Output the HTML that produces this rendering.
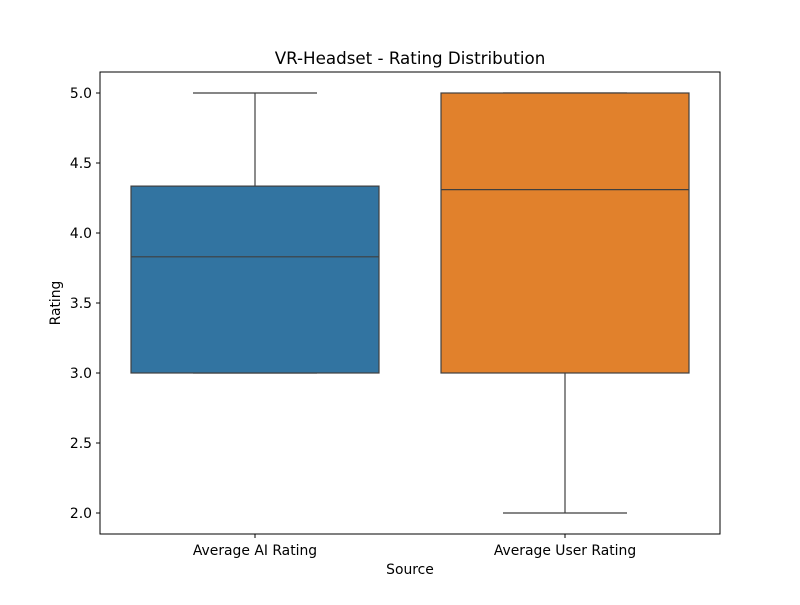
<!DOCTYPE html>
<html><head><meta charset="utf-8"><style>
body{margin:0;background:#fff;}
svg text{font-family:"DejaVu Sans","Liberation Sans",sans-serif;}
</style></head><body>
<svg width="800" height="600" xmlns="http://www.w3.org/2000/svg">
<rect width="800" height="600" fill="#fff"/>
<text x="410" y="64" text-anchor="middle" font-size="16.7">VR-Headset - Rating Distribution</text>
<g id="plot"></g>
<rect x="100" y="72" width="620" height="462" fill="none" stroke="#000" stroke-width="1"/>
<text x="410" y="574" text-anchor="middle" font-size="13.9">Source</text>
<text x="60" y="303" text-anchor="middle" font-size="13.9" transform="rotate(-90 60 303)">Rating</text>
</svg>
<script>
const categories=["Average AI Rating","Average User Rating"];
const q1=[3.0,3.0];
const medians=[3.83,4.31];
const q3=[4.335,5.0];
const whiskLow=[3.0,2.0];
const whiskHigh=[5.0,5.0];
const colors=["#3274a1","#e1812c"];
const yTicks=[2.0,2.5,3.0,3.5,4.0,4.5,5.0];
const ns="http://www.w3.org/2000/svg";
const g=document.getElementById('plot');
const y=v=>513-(v-2)*140;
const x=i=>100+310*(i+0.5);
function el(t,a){const e=document.createElementNS(ns,t);for(const k in a)e.setAttribute(k,a[k]);g.appendChild(e);return e;}
yTicks.forEach(t=>{
 const l=el('line',{x1:96,x2:100,y1:y(t),y2:y(t),stroke:'#000'});
 
 
 const tx=el('text',{x:92,y:y(t)+5,'text-anchor':'end','font-size':13.9});
 tx.textContent=t.toFixed(1);
 
 
});
categories.forEach((c,i)=>{
 const cx=x(i),bw=248,cw=124,s='#3f3f3f';
 const l=el('line',{x1:cx,x2:cx,y1:534,y2:538,stroke:'#000'});
 
 
 const tx=el('text',{x:cx,y:555,'text-anchor':'middle','font-size':13.9});
 tx.textContent=c;
 
 
 const w1=el('line',{x1:cx,x2:cx,y1:y(q3[i]),y2:y(whiskHigh[i]),stroke:s,'stroke-width':1.2});
 
 
 const w2=el('line',{x1:cx,x2:cx,y1:y(q1[i]),y2:y(whiskLow[i]),stroke:s,'stroke-width':1.2});
 
 
 const c1=el('line',{x1:cx-cw/2,x2:cx+cw/2,y1:y(whiskHigh[i]),y2:y(whiskHigh[i]),stroke:s,'stroke-width':1.2});
 
 
 const c2=el('line',{x1:cx-cw/2,x2:cx+cw/2,y1:y(whiskLow[i]),y2:y(whiskLow[i]),stroke:s,'stroke-width':1.2});
 
 
 const b=el('rect',{x:cx-bw/2,y:y(q3[i]),width:bw,height:y(q1[i])-y(q3[i]),fill:colors[i],stroke:s,'stroke-width':1.2});
 
 
 const m=el('line',{x1:cx-bw/2,x2:cx+bw/2,y1:y(medians[i]),y2:y(medians[i]),stroke:s,'stroke-width':1.2});
 
 
});
</script>
</body></html>
